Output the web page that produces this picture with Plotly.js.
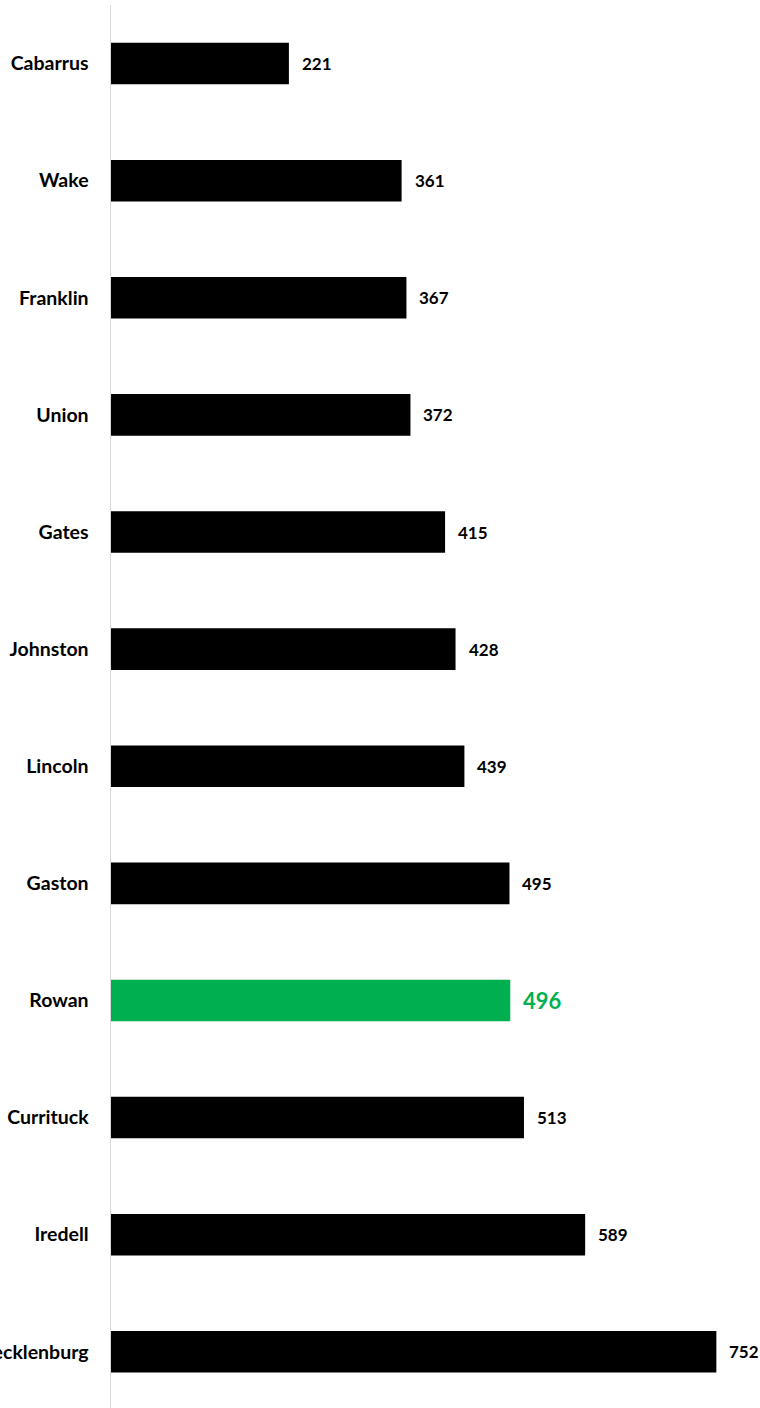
<!DOCTYPE html>
<html>
<head>
<meta charset="utf-8">
<script src="https://cdn.plot.ly/plotly-3.0.1.min.js"></script>
<style>html,body{margin:0;padding:0;background:#fff;overflow:hidden}#chart{width:760px;height:1408px}</style>
</head>
<body>
<div id="chart"></div>
<script>
const counties = ["Cabarrus","Wake","Franklin","Union","Gates","Johnston","Lincoln","Gaston","Rowan","Currituck","Iredell","Mecklenburg"];
const values = [221,361,367,372,415,428,439,495,496,513,589,752];
const highlight = "Rowan";

const barColors = counties.map(c => c === highlight ? "#00B050" : "#000000");

const annotations = counties.map((c, i) => ({
  x: values[i], y: c, xref: "x", yref: "y",
  text: String(values[i]),
  showarrow: false, xanchor: "left", yanchor: "middle",
  xshift: 11,
  font: {
    family: "Lato, Open Sans, Arial, sans-serif",
    size: c === highlight ? 22 : 17,
    color: c === highlight ? "#00B050" : "#000000",
    weight: "bold"
  }
}));

const trace = {
  type: "bar", orientation: "h",
  x: values, y: counties,
  marker: {color: barColors, line: {width: 0}},
  hoverinfo: "none"
};

const layout = {
  width: 760, height: 1408,
  margin: {l: 111, r: 5, t: 5, b: 0, pad: 0},
  paper_bgcolor: "#ffffff", plot_bgcolor: "#ffffff",
  showlegend: false,
  bargap: 0.645,
  xaxis: {range: [0, 800], visible: false, fixedrange: true},
  yaxis: {
    type: "category",
    categoryorder: "array", categoryarray: counties,
    range: [11.48, -0.5],
    showline: true, linecolor: "#d9d9d9", linewidth: 1.5,
    showgrid: false, zeroline: false,
    ticks: "", ticklabelstandoff: 17,
    automargin: false,
    tickfont: {family: "Lato, Open Sans, Arial, sans-serif", size: 19.5, color: "#000000", weight: "bold"}
  },
  annotations: annotations
};

Plotly.newPlot("chart", [trace], layout, {staticPlot: true, displayModeBar: false});
</script>
</body>
</html>
